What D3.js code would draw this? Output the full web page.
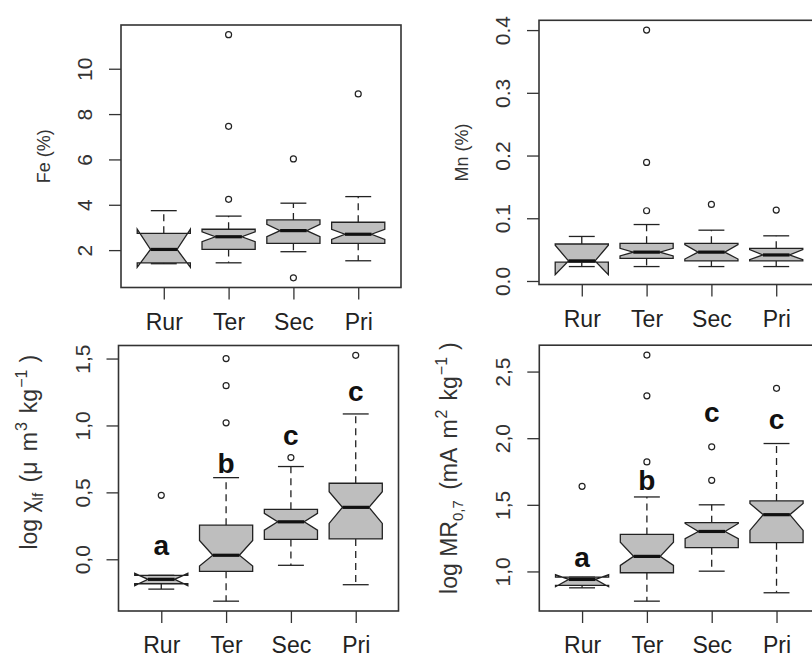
<!DOCTYPE html>
<html><head><meta charset="utf-8">
<script src="https://cdn.jsdelivr.net/npm/d3@7"></script>
<style>body{margin:0;background:#fff} svg{display:block}</style>
</head><body>
<svg id="c" width="812" height="657"></svg>
<script>
const categories = ["Rur", "Ter", "Sec", "Pri"];

// Fe (%)
const feMed      = [2.03, 2.59, 2.86, 2.70];
const feQ1       = [1.44, 2.03, 2.30, 2.30];
const feQ3       = [2.74, 2.92, 3.33, 3.23];
const feConfLo   = [1.24, 2.37, 2.59, 2.47];
const feConfHi   = [2.92, 2.81, 3.14, 2.92];
const feWhiskLo  = [1.40, 1.44, 1.93, 1.53];
const feWhiskHi  = [3.74, 3.50, 4.07, 4.36];
const feOut      = [[], [4.24, 7.46, 11.5], [6.02, 0.78], [8.89]];
const feTicks    = [2, 4, 6, 8, 10];
const feTickLabels = ["2", "4", "6", "8", "10"];

// Mn (%)
const mnMed      = [0.032, 0.046, 0.046, 0.0415];
const mnQ1       = [0.030, 0.036, 0.032, 0.032];
const mnQ3       = [0.059, 0.060, 0.060, 0.052];
const mnConfLo   = [0.010, 0.040, 0.035, 0.034];
const mnConfHi   = [0.057, 0.052, 0.058, 0.050];
const mnWhiskLo  = [0.023, 0.023, 0.023, 0.023];
const mnWhiskHi  = [0.071, 0.090, 0.081, 0.072];
const mnOut      = [[], [0.112, 0.189, 0.40], [0.122], [0.113]];
const mnTicks    = [0, 0.1, 0.2, 0.3, 0.4];
const mnTickLabels = ["0.0", "0.1", "0.2", "0.3", "0.4"];

// log chi_lf
const chiMed     = [-0.150, 0.030, 0.280, 0.388];
const chiQ1      = [-0.183, -0.090, 0.148, 0.152];
const chiQ3      = [-0.120, 0.255, 0.373, 0.568];
const chiConfLo  = [-0.197, -0.050, 0.218, 0.268];
const chiConfHi  = [-0.105, 0.140, 0.343, 0.505];
const chiWhiskLo = [-0.223, -0.313, -0.045, -0.190];
const chiWhiskHi = [-0.120, 0.610, 0.693, 1.086];
const chiOut     = [[0.478], [1.02, 1.297, 1.50], [0.760], [1.524]];
const chiTicks   = [0, 0.5, 1.0, 1.5];
const chiTickLabels = ["0,0", "0,5", "1,0", "1,5"];
const chiLetters = ["a", "b", "c", "c"];
const chiLetterY = [0.03, 0.643, 0.856, 1.181];

// log MR0,7
const mrMed      = [0.940, 1.113, 1.300, 1.426];
const mrQ1       = [0.895, 0.990, 1.178, 1.216];
const mrQ3       = [0.957, 1.278, 1.366, 1.529];
const mrConfLo   = [0.885, 1.045, 1.246, 1.308];
const mrConfHi   = [0.975, 1.220, 1.360, 1.510];
const mrWhiskLo  = [0.877, 0.777, 1.002, 0.840];
const mrWhiskHi  = [0.957, 1.559, 1.500, 1.960];
const mrOut      = [[1.639], [1.822, 2.318, 2.624], [1.684, 1.935], [2.374]];
const mrTicks    = [1.0, 1.5, 2.0, 2.5];
const mrTickLabels = ["1,0", "1,5", "2,0", "2,5"];
const mrLetters  = ["a", "b", "c", "c"];
const mrLetterY  = [1.032, 1.609, 2.12, 2.07];

const FONT = "'Liberation Sans', Arial, Helvetica, sans-serif";
const svg = d3.select("#c");
svg.append("rect").attr("width", 812).attr("height", 657).attr("fill", "#fff");

const panels = [
  {med: feMed, q1: feQ1, q3: feQ3, cLo: feConfLo, cHi: feConfHi, wLo: feWhiskLo, wHi: feWhiskHi, out: feOut,
   ticks: feTicks, tickLabels: feTickLabels, frame: {l: 121, t: 25, b: 287.5}, title: "fe"},
  {med: mnMed, q1: mnQ1, q3: mnQ3, cLo: mnConfLo, cHi: mnConfHi, wLo: mnWhiskLo, wHi: mnWhiskHi, out: mnOut,
   ticks: mnTicks, tickLabels: mnTickLabels, frame: {l: 539, t: 20.3, b: 284.5}, title: "mn"},
  {med: chiMed, q1: chiQ1, q3: chiQ3, cLo: chiConfLo, cHi: chiConfHi, wLo: chiWhiskLo, wHi: chiWhiskHi, out: chiOut,
   ticks: chiTicks, tickLabels: chiTickLabels, frame: {l: 118.5, t: 345.5, b: 611}, title: "chi",
   letters: chiLetters, letterY: chiLetterY},
  {med: mrMed, q1: mrQ1, q3: mrQ3, cLo: mrConfLo, cHi: mrConfHi, wLo: mrWhiskLo, wHi: mrWhiskHi, out: mrOut,
   ticks: mrTicks, tickLabels: mrTickLabels, frame: {l: 539.3, t: 345.2, b: 611}, title: "mr",
   letters: mrLetters, letterY: mrLetterY}
];

const INK = "#222";

function drawPanel(p) {
  const g = svg.append("g");
  const all = [].concat(p.wLo, p.wHi, p.cLo, p.cHi, p.q1, p.q3, p.out.flat());
  const [mn, mx] = d3.extent(all);
  const pad = (mx - mn) * 0.04;
  const W = 280;
  const x = d3.scaleLinear().domain([0.34, 4.66]).range([p.frame.l, p.frame.l + W]);
  const y = d3.scaleLinear().domain([mn - pad, mx + pad]).range([p.frame.b, p.frame.t]);
  const hw = 0.41, cap = 0.2;

  // axes
  const xa = d3.axisBottom(x).tickValues([1, 2, 3, 4]).tickFormat((d, i) => categories[i])
    .tickSize(12).tickPadding(14);
  const gx = g.append("g").attr("transform", `translate(0,${p.frame.b})`).call(xa);
  gx.select(".domain").remove();
  gx.selectAll("line").attr("stroke", "#333").attr("stroke-width", 1.3);
  gx.selectAll("text").attr("font-family", FONT).attr("font-size", 23).attr("fill", "#222");

  const ya = d3.axisLeft(y).tickValues(p.ticks).tickFormat((d, i) => p.tickLabels[i]).tickSize(12);
  const gy = g.append("g").attr("transform", `translate(${p.frame.l},0)`).call(ya);
  gy.select(".domain").remove();
  gy.selectAll("line").attr("stroke", "#333").attr("stroke-width", 1.3);
  gy.selectAll("text").attr("font-family", FONT).attr("font-size", 21).attr("fill", "#333")
    .attr("transform", "rotate(-90)").attr("x", 0).attr("y", -29).attr("dy", 0)
    .attr("text-anchor", "middle");

  // boxes
  categories.forEach((c, i) => {
    const cx = x(i + 1);
    const xw = x(i + 1 + hw) - cx, xc = x(i + 1 + cap) - cx;
    // whiskers
    g.append("line").attr("x1", cx).attr("x2", cx).attr("y1", y(p.q3[i])).attr("y2", y(p.wHi[i]))
      .attr("stroke", INK).attr("stroke-width", 1.3).attr("stroke-dasharray", "7,5");
    g.append("line").attr("x1", cx).attr("x2", cx).attr("y1", y(p.q1[i])).attr("y2", y(p.wLo[i]))
      .attr("stroke", INK).attr("stroke-width", 1.3).attr("stroke-dasharray", "7,5");
    [p.wHi[i], p.wLo[i]].forEach(v => {
      g.append("line").attr("x1", cx - xc).attr("x2", cx + xc).attr("y1", y(v)).attr("y2", y(v))
        .attr("stroke", INK).attr("stroke-width", 1.3);
    });
    // notched box polygon (R bxp style)
    const pts = [
      [cx - xw, y(p.q1[i])], [cx + xw, y(p.q1[i])], [cx + xw, y(p.cLo[i])], [cx + xw / 2, y(p.med[i])],
      [cx + xw, y(p.cHi[i])], [cx + xw, y(p.q3[i])], [cx - xw, y(p.q3[i])], [cx - xw, y(p.cHi[i])],
      [cx - xw / 2, y(p.med[i])], [cx - xw, y(p.cLo[i])]
    ];
    g.append("polygon").attr("points", pts.map(d => d.join(",")).join(" "))
      .attr("fill", "#bebebe").attr("stroke", INK).attr("stroke-width", 1.3).attr("stroke-linejoin", "miter");
    g.append("line").attr("x1", cx - xw / 2).attr("x2", cx + xw / 2)
      .attr("y1", y(p.med[i])).attr("y2", y(p.med[i])).attr("stroke", "#111").attr("stroke-width", 3.2);
    // outliers
    p.out[i].forEach(v => {
      g.append("circle").attr("cx", cx).attr("cy", y(v)).attr("r", 3)
        .attr("fill", "none").attr("stroke", INK).attr("stroke-width", 1.2);
    });
    if (p.letters) {
      g.append("text").attr("x", cx).attr("y", y(p.letterY[i])).attr("text-anchor", "middle")
        .attr("font-family", FONT).attr("font-size", 28).attr("font-weight", "bold")
        .attr("fill", "#111").text(p.letters[i]);
    }
  });

  // frame
  g.append("rect").attr("x", p.frame.l).attr("y", p.frame.t).attr("width", W)
    .attr("height", p.frame.b - p.frame.t).attr("fill", "none").attr("stroke", "#333").attr("stroke-width", 1.6);

  // title
  const cy = (p.frame.t + p.frame.b) / 2;
  if (p.title === "fe" || p.title === "mn") {
    g.append("text").attr("transform", `translate(${p.frame.l - 71},${cy}) rotate(-90)`)
      .attr("text-anchor", "middle").attr("font-family", FONT).attr("font-size", 18).attr("fill", "#333")
      .text(p.title === "fe" ? "Fe (%)" : "Mn (%)");
  } else {
    const shift = p.title === "chi" ? -26 : -10;
    const t = g.append("text").attr("transform", `translate(${p.frame.l - 82},${cy + shift}) rotate(-90)`)
      .attr("text-anchor", "middle").attr("font-family", FONT).attr("font-size", 23).attr("fill", "#333");
    const parts = p.title === "chi"
      ? [["log χ", 0, 23, 0], ["lf", 6, 15, 0], [" (", -6, 23, 4], ["μ", 0, 23, 0], [" m", 0, 23, 4],
         ["3", -10, 16, 1], ["kg", 10, 23, 9], ["−1", -10, 16, 1], [")", 10, 23, 7]]
      : [["log MR", 0, 23, 0], ["0,7", 6, 15, 0], [" (mA", -6, 23, 4], [" m", 0, 23, 4],
         ["2", -10, 16, 1], ["kg", 10, 23, 9], ["−1", -10, 16, 1], [")", 10, 23, 7]];
    parts.forEach(([s, dy, fs, dx]) => {
      t.append("tspan").attr("dy", dy).attr("dx", dx).attr("font-size", fs).text(s);
    });
  }
}

panels.forEach(drawPanel);
</script>
</body></html>
